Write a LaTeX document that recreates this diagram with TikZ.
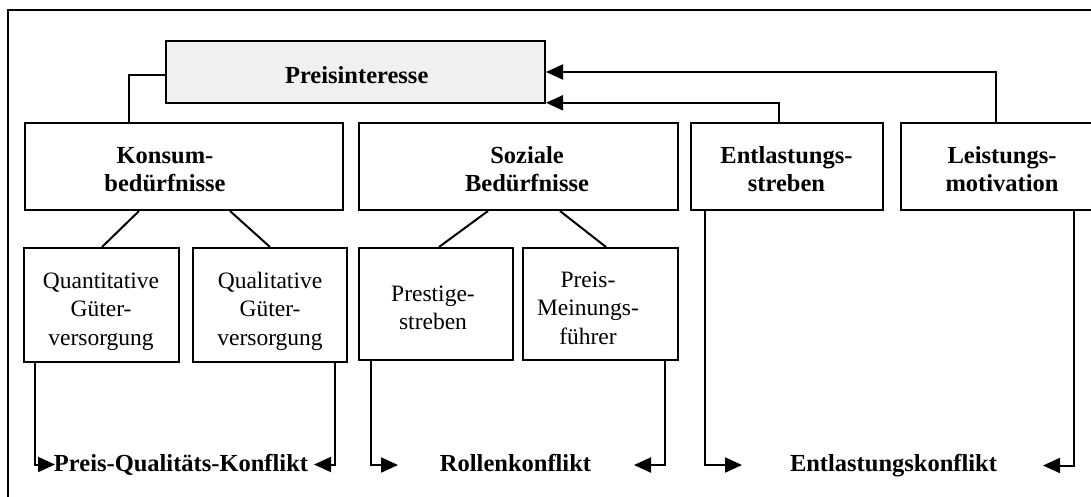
\documentclass[tikz,border=0pt]{standalone}
\usepackage{fontspec}
\setmainfont{Liberation Serif}
\usetikzlibrary{arrows.meta}
\begin{document}
\begin{tikzpicture}[x=1pt,y=-1pt,
  line width=2pt,
  box/.style={draw, rectangle, inner sep=0pt, line width=2pt},
  bt/.style={font=\fontsize{24.5}{29}\selectfont\bfseries, inner sep=0pt, anchor=base},
  rt/.style={font=\fontsize{23.5}{28}\selectfont, inner sep=0pt, anchor=base},
  arr/.style={-{Triangle[length=17pt,width=15pt]}, line width=2pt},
  link/.style={line width=2pt}]
\path[use as bounding box, clip] (0,0) rectangle (1091,496);

% outer frame
\draw (8,530) -- (8,10) -- (1110,10);

% top box
\node[box, minimum width=379pt, minimum height=62.6pt, fill=gray!12] (P) at (355.5,72) {};
\node[bt] (Pt) at (356.7,83.3) {Preisinteresse};

% second row
\node[box, minimum width=318pt, minimum height=87pt] (konsum) at (184,166.5) {};
\node[box, minimum width=319pt, minimum height=87pt] (sozial) at (518.5,166.5) {};
\node[box, minimum width=192pt, minimum height=87pt] (ent) at (787,166.5) {};
\node[box, minimum width=202pt, minimum height=87pt] (leist) at (1002,166.5) {};

\node[bt] (konsumA) at (165,163.5) {Konsum-};
\node[bt] (konsumB) at (165,191) {bedürfnisse};
\node[bt] (sozialA) at (527,163.5) {Soziale};
\node[bt] (sozialB) at (527,191) {Bedürfnisse};
\node[bt] (entA) at (786.5,163.5) {Entlastungs-};
\node[bt] (entB) at (786.5,191) {streben};
\node[bt] (leistA) at (1002,163.5) {Leistungs-};
\node[bt] (leistB) at (1002,191) {motivation};

% third row
\node[box, minimum width=155pt, minimum height=114pt] (quant) at (101.5,305) {};
\node[box, minimum width=154pt, minimum height=114pt] (qual) at (270,305) {};
\node[box, minimum width=154pt, minimum height=112pt] (prest) at (436,304) {};
\node[box, minimum width=155pt, minimum height=112pt] (mein) at (600.5,304) {};

\node[rt] (quantA) at (101,288.3) {Quantitative};
\node[rt] (quantB) at (101,316.7) {Güter-};
\node[rt] (quantC) at (101,345) {versorgung};
\node[rt] (qualA) at (270,288.3) {Qualitative};
\node[rt] (qualB) at (270,316.7) {Güter-};
\node[rt] (qualC) at (270,345) {versorgung};
\node[rt] (prestA) at (433,301.7) {Prestige-};
\node[rt] (prestB) at (433,329) {streben};
\node[rt] (meinA) at (588,287) {Preis-};
\node[rt] (meinB) at (588,315.7) {Meinungs-};
\node[rt] (meinC) at (588,344) {führer};

% conflict labels
\node[bt] (pqk) at (181,471.7) {Preis-Qualitäts-Konflikt};
\node[bt] (rk) at (515.5,471.7) {Rollenkonflikt};
\node[bt] (ek) at (893.5,471.7) {Entlastungskonflikt};

\coordinate (tipA) at (55,464.5);
\coordinate (tipB) at (314,464.5);
\coordinate (tipC) at (398,465);
\coordinate (tipD) at (634,465);
\coordinate (tipE) at (742,465);
\coordinate (tipF) at (1043,465.5);

% links to the top box
\draw[link] ([yshift=-3pt]P.west) -| ([xshift=-55pt]konsum.north);
\draw[arr] ([xshift=-8pt]ent.north) |- ([yshift=1.5pt]P.south east);
\draw[arr] ([xshift=-6pt]leist.north) |- (P.east);

% links between rows
\draw[link] ([xshift=-45pt]konsum.south) -- ([xshift=0.5pt]quant.north);
\draw[link] ([xshift=46pt]konsum.south) -- (qual.north);
\draw[link] ([xshift=-30.5pt]sozial.south) -- ([xshift=3pt]prest.north);
\draw[link] ([xshift=41.5pt]sozial.south) -- ([xshift=5.5pt]mein.north);

% links to the conflicts
\draw[arr] ([xshift=-66.5pt]quant.south) |- (tipA);
\draw[arr] ([xshift=65pt]qual.south) |- (tipB);
\draw[arr] ([xshift=-65pt]prest.south) |- (tipC);
\draw[arr] ([xshift=64.5pt]mein.south) |- (tipD);
\draw[arr] ([xshift=-82pt]ent.south) |- (tipE);
\draw[arr] ([xshift=72pt]leist.south) |- (tipF);
\end{tikzpicture}
\end{document}
